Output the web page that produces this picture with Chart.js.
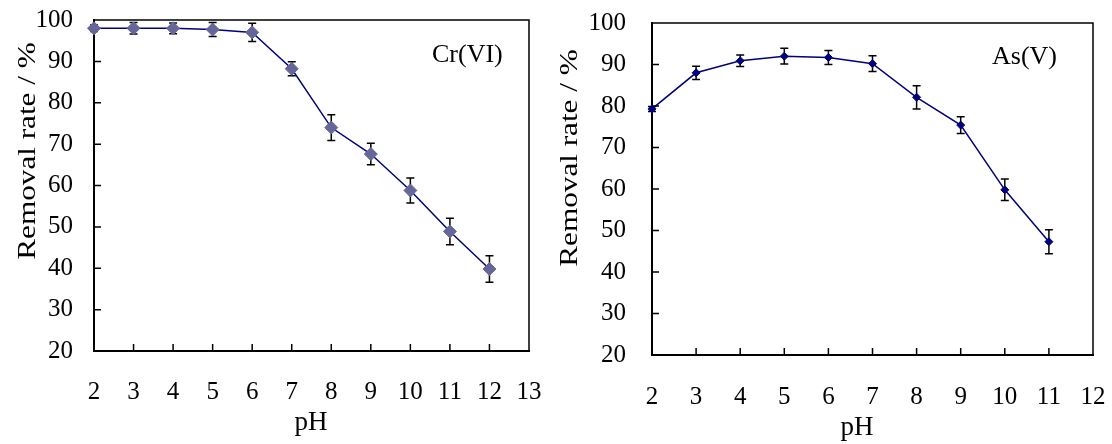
<!DOCTYPE html>
<html>
<head>
<meta charset="utf-8">
<script src="https://cdn.jsdelivr.net/npm/chart.js@4.4.0/dist/chart.umd.min.js"></script>
<style>
  html, body { margin: 0; padding: 0; background: #fff; }
  #wrap { position: relative; width: 1112px; height: 444px; overflow: hidden; }
  .panel { position: absolute; top: 0; width: 556px; height: 444px; }
</style>
</head>
<body>
<div id="wrap">
  <div class="panel" style="left:0"><canvas id="crChart" width="556" height="444"></canvas></div>
  <div class="panel" style="left:556px"><canvas id="asChart" width="556" height="444"></canvas></div>
</div>
<script>
// Cr(VI) removal vs pH
const crPH = [2, 3, 4, 5, 6, 7, 8, 9, 10, 11, 12];
const crRemoval = [98.0, 98.0, 98.0, 97.7, 97.0, 88.2, 74.0, 67.6, 58.8, 48.9, 39.8];
const crError = [0.8, 1.4, 1.3, 1.7, 2.2, 1.7, 3.1, 2.6, 3.0, 3.2, 3.2];
const crXTicks = [2, 3, 4, 5, 6, 7, 8, 9, 10, 11, 12, 13];

// As(V) removal vs pH
const asPH = [2, 3, 4, 5, 6, 7, 8, 9, 10, 11];
const asRemoval = [79.3, 88.0, 90.9, 92.0, 91.7, 90.2, 82.1, 75.4, 59.8, 47.3];
const asError = [0.6, 1.6, 1.4, 1.9, 1.7, 1.9, 2.8, 2.0, 2.6, 2.9];
const asXTicks = [2, 3, 4, 5, 6, 7, 8, 9, 10, 11, 12];

const yTicks = [20, 30, 40, 50, 60, 70, 80, 90, 100];

const SERIF = "'Liberation Serif', 'Times New Roman', serif";

// Error bars, inner tick marks, the closing frame and the text labels
const panelDecor = {
  id: 'panelDecor',
  beforeDatasetsDraw(chart, args, o) {
    const ctx = chart.ctx, xs = chart.scales.x, ys = chart.scales.y;
    ctx.save();
    ctx.strokeStyle = '#000';
    ctx.lineWidth = 1.5;
    o.xs.forEach((x, i) => {
      const px = xs.getPixelForValue(x);
      const top = ys.getPixelForValue(o.ys[i] + o.err[i]);
      const bot = ys.getPixelForValue(o.ys[i] - o.err[i]);
      ctx.beginPath();
      ctx.moveTo(px, top); ctx.lineTo(px, bot);
      ctx.moveTo(px - o.cap, top); ctx.lineTo(px + o.cap, top);
      ctx.moveTo(px - o.cap, bot); ctx.lineTo(px + o.cap, bot);
      ctx.stroke();
    });
    ctx.restore();
  },
  afterDraw(chart, args, o) {
    const ctx = chart.ctx, a = chart.chartArea, xs = chart.scales.x, ys = chart.scales.y;
    ctx.save();
    ctx.strokeStyle = '#000';
    ctx.lineWidth = 1.5;
    ctx.beginPath();
    // top and right edges of the frame
    ctx.moveTo(a.left, a.top); ctx.lineTo(a.right, a.top); ctx.lineTo(a.right, a.bottom);
    // inward ticks
    o.xTicks.forEach(v => {
      const px = xs.getPixelForValue(v);
      ctx.moveTo(px, a.bottom); ctx.lineTo(px, a.bottom - 7);
    });
    yTicks.forEach(v => {
      const py = ys.getPixelForValue(v);
      ctx.moveTo(a.left, py); ctx.lineTo(a.left + 7, py);
    });
    ctx.stroke();

    ctx.fillStyle = '#000';
    // series label
    ctx.font = '26px ' + SERIF;
    ctx.textAlign = 'left';
    ctx.textBaseline = 'middle';
    ctx.fillText(o.label, o.labelX, o.labelY);
    // x-axis title
    ctx.font = '27px ' + SERIF;
    ctx.textAlign = 'center';
    ctx.textBaseline = 'alphabetic';
    ctx.fillText('pH', o.xTitleX, o.xTitleY);
    // y-axis title, set slightly condensed-tall
    ctx.translate(o.yTitleX, o.yTitleY);
    ctx.rotate(-Math.PI / 2);
    ctx.scale(1.2, 1);
    ctx.font = '26px ' + SERIF;
    ctx.fillText('Removal rate / %', 0, 0);
    ctx.restore();
  }
};

function makeChart(id, g) {
  return new Chart(document.getElementById(id), {
    type: 'line',
    data: {
      datasets: [{
        data: g.xs.map((x, i) => ({ x: x, y: g.ys[i] })),
        borderColor: '#000080',
        borderWidth: 1.5,
        pointStyle: 'rectRot',
        pointRadius: g.pointRadius,
        pointBackgroundColor: g.pointColor,
        pointBorderColor: g.pointColor,
        pointBorderWidth: 1,
        tension: 0,
        clip: false
      }]
    },
    options: {
      responsive: false,
      animation: false,
      events: [],
      layout: { padding: { top: g.top, right: g.right, left: 0, bottom: 0 } },
      plugins: {
        legend: { display: false },
        tooltip: { enabled: false },
        panelDecor: {
          xs: g.xs, ys: g.ys, err: g.err, cap: g.cap, xTicks: g.xTicks,
          label: g.label, labelX: g.labelX, labelY: g.labelY,
          xTitleX: g.xTitleX, xTitleY: g.xTitleY, yTitleX: g.yTitleX, yTitleY: g.yTitleY
        }
      },
      scales: {
        x: {
          type: 'linear',
          min: g.xTicks[0],
          max: g.xTicks[g.xTicks.length - 1],
          afterBuildTicks: s => { s.ticks = g.xTicks.map(v => ({ value: v })); },
          afterFit: s => { s.height = g.xHeight; s.paddingLeft = 0; s.paddingRight = 0; },
          grid: { display: false, drawTicks: false },
          border: { display: true, color: '#000', width: 2 },
          ticks: { color: '#000', padding: g.xPad, maxRotation: 0, autoSkip: false,
                   font: { family: SERIF, size: 25 } }
        },
        y: {
          min: yTicks[0],
          max: yTicks[yTicks.length - 1],
          afterBuildTicks: s => { s.ticks = yTicks.map(v => ({ value: v })); },
          afterFit: s => { s.width = g.yWidth; s.paddingTop = 0; s.paddingBottom = 0; },
          grid: { display: false, drawTicks: false },
          border: { display: true, color: '#000', width: 2 },
          ticks: { color: '#000', padding: g.yPad, font: { family: SERIF, size: 25 } }
        }
      }
    },
    plugins: [panelDecor]
  });
}

makeChart('crChart', {
  xs: crPH, ys: crRemoval, err: crError, xTicks: crXTicks,
  pointRadius: 6.5, pointColor: '#666699', cap: 4,
  top: 20, right: 27, yWidth: 94, xHeight: 93, yPad: 21, xPad: 26,
  label: 'Cr(VI)', labelX: 432, labelY: 55,
  xTitleX: 311, xTitleY: 430, yTitleX: 35, yTitleY: 151
});

makeChart('asChart', {
  xs: asPH, ys: asRemoval, err: asError, xTicks: asXTicks,
  pointRadius: 4, pointColor: '#000080', cap: 4,
  top: 23, right: 19, yWidth: 96, xHeight: 89, yPad: 26, xPad: 27,
  label: 'As(V)', labelX: 436, labelY: 57,
  xTitleX: 301, xTitleY: 435, yTitleX: 21, yTitleY: 158
});
</script>
</body>
</html>
